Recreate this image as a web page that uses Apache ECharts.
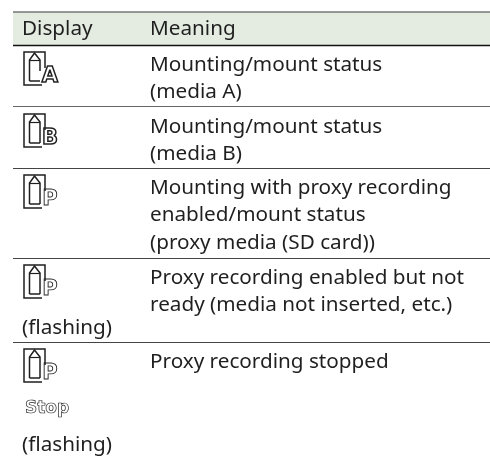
<!DOCTYPE html>
<html><head><meta charset="utf-8">
<style>html,body{margin:0;padding:0;background:#fff}#c{width:490px;height:457px}</style>
<script src="https://cdn.jsdelivr.net/npm/echarts@6/dist/echarts.min.js"></script>
</head><body><div id="c"></div>
<script>
const headers = ['Display', 'Meaning'];
const badges = ['A', 'B', 'P', 'P', 'P'];
const displayNotes = [[], [], [], ['(flashing)'], ['Stop', '(flashing)']];
const meanings = [
  ['Mounting/mount status', '(media A)'],
  ['Mounting/mount status', '(media B)'],
  ['Mounting with proxy recording', 'enabled/mount status', '(proxy media (SD card))'],
  ['Proxy recording enabled but not', 'ready (media not inserted, etc.)'],
  ['Proxy recording stopped']
];
const font = '"Noto Sans","Open Sans",sans-serif';
const ink = '#1f1f1f';
const clear = 'rgba(0,0,0,0)';
const rowTops = [45, 107, 168, 258, 342];
const L = 13, R = 490, X1 = 22, X2 = 150;
const g = [];
function line(y, w, c) { g.push({type:'line', shape:{x1:L,y1:y,x2:R,y2:y}, style:{stroke:c,lineWidth:w}}); }
function text(s, x, y) { g.push({type:'text', x, y, style:{text:s, x:0, y:0, fill:ink, font:'20.7px '+font, textVerticalAlign:'middle'}}); }
g.push({type:'rect', shape:{x:L,y:12,width:R-L,height:33}, style:{fill:'#e4ece1'}});
line(12, 1.5, '#777'); line(45.5, 1.5, '#111');
[106.5, 168.5, 258.5, 342.5].forEach((y,i)=> line(y, 1.2, i===0?'#666':'#444'));
text(headers[0], X1, 29); text(headers[1], X2, 29);
const lineH = 27.5;
function icon(x, y, letter) {
  const innerEnd = letter === 'A' ? y+19 : y+29;
  g.push({type:'polyline', shape:{points:[[x+21,y+16],[x+21,y],[x,y],[x,y+33],[x+18,y+33]]}, style:{fill:'none',stroke:ink,lineWidth:1.5}});
  g.push({type:'polyline', shape:{points:[[x+5.5,y+29],[x+5.5,y+8],[x+10.5,y+1],[x+16,y+8],[x+16,innerEnd]]}, style:{fill:'none',stroke:ink,lineWidth:1.5}});
  g.push({type:'line', shape:{x1:x+5.5,y1:y+29,x2:x+16,y2:y+29}, style:{stroke:ink,lineWidth:1.5}});
  g.push({type:'line', shape:{x1:x+5.5,y1:y+8.5,x2:x+16,y2:y+8.5}, style:{stroke:ink,lineWidth:1.2}});
  g.push({type:'text', x:x+26, y:y+25, style:{text:letter, x:0, y:0, fill:clear, stroke:ink, lineWidth:letter==='P'?0.9:1.5, font:'bold 21px "DejaVu Sans",sans-serif', textAlign:'center', textVerticalAlign:'middle'}});
}
badges.forEach((b,i)=>{
  const top = rowTops[i];
  icon(24, top+7, b);
  meanings[i].forEach((m,j)=> text(m, X2, top+20+j*lineH));
});
text(displayNotes[3][0], X1, 328);
g.push({type:'text', x:25, y:409, style:{text:displayNotes[4][0], x:0, y:0, fill:clear, stroke:ink, lineWidth:0.7, font:'bold 17px "DejaVu Sans",sans-serif', textVerticalAlign:'middle'}});
text(displayNotes[4][1], X1, 445);
const chart = echarts.init(document.getElementById('c'), null, {renderer:'canvas'});
chart.setOption({animation:false, graphic:{elements:g}});
</script></body></html>
